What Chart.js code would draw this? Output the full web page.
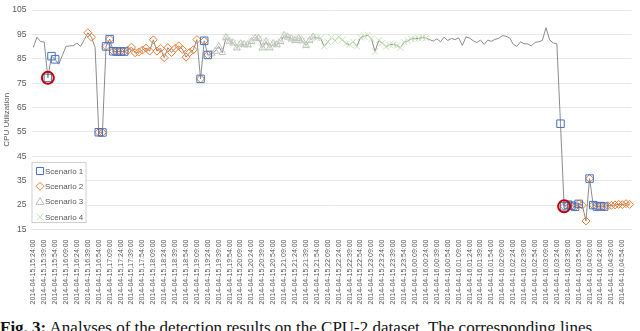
<!DOCTYPE html>
<html>
<head>
<meta charset="utf-8">
<script src="https://cdn.jsdelivr.net/npm/chart.js@4.4.1/dist/chart.umd.min.js"></script>
<style>
  html, body { margin: 0; padding: 0; background: #fff; }
  body { width: 640px; height: 331px; overflow: hidden; position: relative; }
  #wrap { position: absolute; left: 0; top: 0; width: 640px; height: 312px; }
  #caption {
    position: absolute; left: 0; top: 318px; width: 640px; white-space: nowrap;
    font-family: "Liberation Serif", "DejaVu Serif", serif; font-size: 17px; line-height: 20px; color: #111;
  }
</style>
</head>
<body>
<div id="wrap"><canvas id="cpuChart" width="640" height="312"></canvas></div>
<div id="caption"><b>Fig. 3:</b> Analyses of the detection results on the CPU-2 dataset. The corresponding lines</div>
<script>
/* ───────────── datos ───────────── */
// etiquetas visibles del eje X (cada 15 min, una de cada 3 muestras)
const tickLabels = [
  "2014-04-15,15:24:00", "2014-04-15,15:39:00", "2014-04-15,15:54:00", "2014-04-15,16:09:00",
  "2014-04-15,16:24:00", "2014-04-15,16:39:00", "2014-04-15,16:54:00", "2014-04-15,17:09:00",
  "2014-04-15,17:24:00", "2014-04-15,17:39:00", "2014-04-15,17:54:00", "2014-04-15,18:09:00",
  "2014-04-15,18:24:00", "2014-04-15,18:39:00", "2014-04-15,18:54:00", "2014-04-15,19:09:00",
  "2014-04-15,19:24:00", "2014-04-15,19:39:00", "2014-04-15,19:54:00", "2014-04-15,20:09:00",
  "2014-04-15,20:24:00", "2014-04-15,20:39:00", "2014-04-15,20:54:00", "2014-04-15,21:09:00",
  "2014-04-15,21:24:00", "2014-04-15,21:39:00", "2014-04-15,21:54:00", "2014-04-15,22:09:00",
  "2014-04-15,22:24:00", "2014-04-15,22:39:00", "2014-04-15,22:54:00", "2014-04-15,23:09:00",
  "2014-04-15,23:24:00", "2014-04-15,23:39:00", "2014-04-15,23:54:00", "2014-04-16,00:09:00",
  "2014-04-16,00:24:00", "2014-04-16,00:39:00", "2014-04-16,00:54:00", "2014-04-16,01:09:00",
  "2014-04-16,01:24:00", "2014-04-16,01:39:00", "2014-04-16,01:54:00", "2014-04-16,02:09:00",
  "2014-04-16,02:24:00", "2014-04-16,02:39:00", "2014-04-16,02:54:00", "2014-04-16,03:09:00",
  "2014-04-16,03:24:00", "2014-04-16,03:39:00", "2014-04-16,03:54:00", "2014-04-16,04:09:00",
  "2014-04-16,04:24:00", "2014-04-16,04:39:00", "2014-04-16,04:54:00"
];

// CPU Utilization, una muestra cada 5 min
const cpuValues = [
  89.7, 93.9, 92.1, 91.9, 77.2, 86.1, 84.8, 82.8, 86.5, 90.1,
  90.3, 90.4, 91.5, 90.1, 92.8, 95.7, 93.9, 89.6, 54.9, 54.8,
  90.1, 93.1, 88.1, 88.0, 88.0, 88.0, 88.5, 89.8, 87.5, 87.8,
  88.6, 89.4, 88.2, 92.8, 88.2, 89.3, 85.5, 89.6, 87.6, 89.3,
  90.3, 88.9, 85.7, 87.6, 88.7, 92.9, 76.8, 92.4, 86.6, 87.1,
  88.1, 90.1, 87.6, 93.7, 92.2, 91.5, 89.5, 91.2, 90.8, 90.8,
  92.1, 93.5, 93.3, 89.5, 92.1, 89.5, 91.3, 90.8, 92.1, 94.6,
  93.9, 93.2, 92.5, 93.4, 92.4, 90.5, 92.6, 94.0, 93.6, 93.5,
  90.1, 92.0, 93.8, 92.4, 94.0, 92.8, 91.3, 90.8, 92.0, 90.1,
  93.8, 94.2, 94.8, 93.2, 88.0, 92.6, 91.5, 90.0, 90.8, 90.9,
  90.5, 89.6, 91.8, 92.4, 93.2, 93.3, 93.4, 93.7, 93.5, 92.9,
  92.3, 93.2, 92.0, 93.9, 92.5, 93.4, 92.9, 93.6, 90.5, 94.0,
  93.5, 92.4, 91.7, 92.7, 90.9, 92.7, 92.2, 93.0, 93.4, 94.5,
  94.3, 93.6, 91.0, 90.1, 92.0, 91.2, 91.1, 90.3, 91.8, 92.0,
  92.5, 97.8, 92.8, 91.5, 91.2, 58.4, 24.5, 25.2, 24.8, 24.3,
  25.5, 25.0, 18.5, 35.9, 25.0, 24.4, 24.6, 24.4, 24.8, 24.9,
  25.1, 25.3, 25.2, 25.6, 25.3
];

// índices de muestra marcados por cada escenario
const scenario1Idx = [4, 5, 6, 18, 19, 20, 21, 22, 23, 24, 25, 46, 47, 48,
  145, 146, 147, 148, 149, 150, 153, 154, 155, 156, 157];
const scenario2Idx = [15, 16, ...range(18, 48), ...range(146, 164)];
const scenario3Idx = range(49, 77);
const scenario4Idx = range(53, 108);
const anomalyIdx   = [4, 146];

const legendNames = ["Scenario 1", "Scenario 2", "Scenario 3", "Scenario 4"];

/* ───────────── helpers ───────────── */
function range(a, b) {
  const out = [];
  for (let i = a; i <= b; i++) out.push(i);
  return out;
}

function pick(idx) {
  return cpuValues.map((v, i) => idx.includes(i) ? v : null);
}

// cada etiqueta cubre 3 muestras (15 min / 5 min)
const categories = [];
tickLabels.forEach(t => categories.push(t, "", ""));

const FONT = "'Liberation Sans', Arial, sans-serif";
const GRIS_TXT = "#595959";

/* ───────────── leyenda dibujada dentro del área ───────────── */
const legendBox = {
  id: "legendBox",
  afterDatasetsDraw(chart) {
    const ctx = chart.ctx;
    const x0 = chart.chartArea.left + 0.5, y0 = 162.5, w = 54, h = 60;
    ctx.save();
    ctx.fillStyle = "#fff";
    ctx.fillRect(x0, y0, w, h);
    ctx.strokeStyle = "#D0D0D0";
    ctx.lineWidth = 1;
    ctx.strokeRect(x0, y0, w, h);

    const colors = ["#4472C4", "#ED7D31", "#BDBDBD", "#C5E0B4"];
    legendNames.forEach((name, k) => {
      const cy = 171 + k * 15.3, cx = x0 + 8;
      ctx.strokeStyle = colors[k];
      ctx.lineWidth = 1;
      ctx.beginPath();
      if (k === 0) {
        ctx.rect(cx - 3.5, cy - 3.5, 7, 7);
      } else if (k === 1) {
        ctx.moveTo(cx, cy - 4); ctx.lineTo(cx + 4, cy); ctx.lineTo(cx, cy + 4); ctx.lineTo(cx - 4, cy); ctx.closePath();
      } else if (k === 2) {
        ctx.moveTo(cx, cy - 4); ctx.lineTo(cx + 4, cy + 3); ctx.lineTo(cx - 4, cy + 3); ctx.closePath();
      } else {
        ctx.moveTo(cx - 3.5, cy - 3.5); ctx.lineTo(cx + 3.5, cy + 3.5);
        ctx.moveTo(cx + 3.5, cy - 3.5); ctx.lineTo(cx - 3.5, cy + 3.5);
      }
      ctx.stroke();
      ctx.fillStyle = GRIS_TXT;
      ctx.font = "8px " + FONT;
      ctx.textBaseline = "middle";
      ctx.fillText(name, cx + 5, cy + 0.5);
    });
    ctx.restore();
  }
};

/* ───────────── gráfico ───────────── */
const ctx = document.getElementById("cpuChart").getContext("2d");
new Chart(ctx, {
  type: "line",
  data: {
    labels: categories,
    datasets: [
      {
        label: "anomaly",
        data: pick(anomalyIdx),
        showLine: false,
        pointStyle: "circle",
        pointRadius: 6,
        borderColor: "#C00000",
        borderWidth: 2,
        backgroundColor: "rgba(0,0,0,0)",
        order: 1
      },
      {
        label: "Scenario 1",
        data: pick(scenario1Idx),
        showLine: false,
        pointStyle: "rect",
        pointRadius: 5.3,
        borderColor: "#4472C4",
        borderWidth: 1,
        backgroundColor: "rgba(0,0,0,0)",
        order: 2
      },
      {
        label: "Scenario 2",
        data: pick(scenario2Idx),
        showLine: false,
        pointStyle: "rectRot",
        pointRadius: 4,
        borderColor: "#ED7D31",
        borderWidth: 1,
        backgroundColor: "rgba(0,0,0,0)",
        order: 3
      },
      {
        label: "Scenario 3",
        data: pick(scenario3Idx),
        showLine: false,
        pointStyle: "triangle",
        pointRadius: 4,
        borderColor: "#C4C4C4",
        borderWidth: 1,
        backgroundColor: "rgba(0,0,0,0)",
        order: 4
      },
      {
        label: "Scenario 4",
        data: pick(scenario4Idx),
        showLine: false,
        pointStyle: "crossRot",
        pointRadius: 4.5,
        borderColor: "#C9E2B8",
        borderWidth: 1,
        backgroundColor: "rgba(0,0,0,0)",
        order: 5
      },
      {
        label: "CPU",
        data: cpuValues,
        borderColor: "#8C8C8C",
        borderWidth: 1,
        pointRadius: 0,
        tension: 0,
        fill: false,
        order: 6
      }
    ]
  },
  options: {
    responsive: false,
    animation: false,
    devicePixelRatio: 1,
    layout: { padding: { left: 0, right: 8, top: 0, bottom: 0 } },
    plugins: {
      legend: { display: false },
      tooltip: { enabled: false }
    },
    scales: {
      x: {
        offset: true,
        grid: { display: false },
        border: { display: true, color: "#E3E3E3" },
        ticks: {
          autoSkip: false,
          minRotation: 90,
          maxRotation: 90,
          padding: 2,
          color: GRIS_TXT,
          font: { family: FONT, size: 7 },
          callback: function(val, i) { return categories[i]; }
        },
        afterFit: s => { s.height = 82.5; }
      },
      y: {
        min: 15,
        max: 105,
        grid: { color: "#E8E8E8", drawTicks: false },
        border: { display: false },
        ticks: {
          stepSize: 10,
          padding: 5,
          color: GRIS_TXT,
          font: { family: FONT, size: 8.5 }
        },
        title: {
          display: true,
          text: "CPU Utilization",
          color: GRIS_TXT,
          font: { family: FONT, size: 8 },
          padding: { top: 2, bottom: 0 }
        },
        afterFit: s => { s.width = 31.5; }
      }
    }
  },
  plugins: [legendBox]
});
</script>
</body>
</html>
